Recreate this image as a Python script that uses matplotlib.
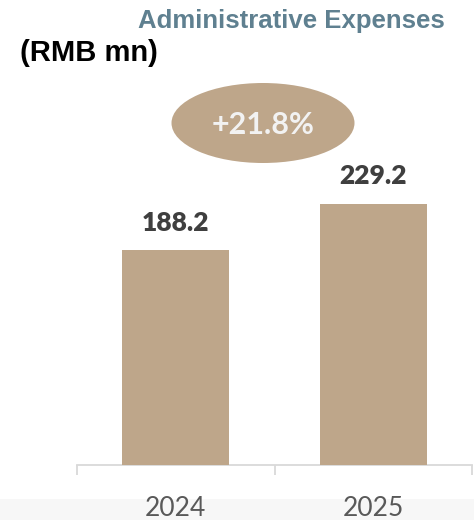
import matplotlib
matplotlib.use("Agg")
import matplotlib.pyplot as plt
from matplotlib.patches import Ellipse, Rectangle
from matplotlib.ticker import FixedLocator

years = ["2024", "2025"]
expenses = [188.2, 229.2]
growth_label = "+21.8%"

TAN = "#bea68a"
LABEL_GREY = "#3f3f3f"
TICK_GREY = "#595959"
AXIS_GREY = "#d9d9d9"
TITLE_BLUE = "#5f8090"

fig = plt.figure(figsize=(4.74, 5.2), dpi=100)
fig.patch.set_facecolor("white")

# faint grey band along the bottom edge, kept behind everything
fig.patches.append(Rectangle((0, 0), 1, 0.04, transform=fig.transFigure,
                             facecolor="#f7f7f7", edgecolor="none", zorder=-5))

ax = fig.add_axes([77 / 474, 55 / 520, 395 / 474, 342 / 520])
ax.set_facecolor("none")

x = range(len(years))
bars = ax.bar(x, expenses, width=0.54, color=TAN, zorder=3)
ax.set_xlim(-0.5, 1.5)
ax.set_ylim(0, 300)

for xi, val in zip(x, expenses):
    ax.annotate(f"{val:.1f}", (xi, val), xytext=(0, 14), textcoords="offset points",
                ha="center", va="baseline", fontsize=19, fontweight="heavy",
                color=LABEL_GREY, family=["Lato", "DejaVu Sans"])

for side in ["top", "right", "left"]:
    ax.spines[side].set_visible(False)
ax.spines["bottom"].set_color(AXIS_GREY)
ax.spines["bottom"].set_linewidth(1.3)
ax.set_yticks([])

ax.set_xticks(list(x))
ax.set_xticklabels(years, fontsize=19, color=TICK_GREY, family=["Lato", "DejaVu Sans"])
ax.tick_params(axis="x", which="major", length=0, pad=22)
ax.xaxis.set_minor_locator(FixedLocator([-0.5, 0.5, 1.5]))
ax.tick_params(axis="x", which="minor", length=7.5, width=1.3, color=AXIS_GREY, direction="out")

# growth badge
fig.patches.append(Ellipse((263 / 474, 1 - 123 / 520), 183 / 474, 80 / 520,
                           transform=fig.transFigure, facecolor=TAN, edgecolor="none", zorder=4))
fig.text(263 / 474, 1 - 125 / 520, growth_label, ha="center", va="center",
         fontsize=22, fontweight="bold", color="#f2f2f2", family=["Lato", "DejaVu Sans"], zorder=5)

fig.text(291 / 474, 1 - 28 / 520, "Administrative Expenses", ha="center", va="baseline",
         fontsize=18.5, fontweight="bold", color=TITLE_BLUE, family=["Liberation Sans", "DejaVu Sans"])
fig.text(20 / 474, 1 - 61 / 520, "(RMB mn)", ha="left", va="baseline",
         fontsize=21, fontweight="bold", color="black", family=["Liberation Sans", "DejaVu Sans"])

fig.savefig("out.png", dpi=100)
